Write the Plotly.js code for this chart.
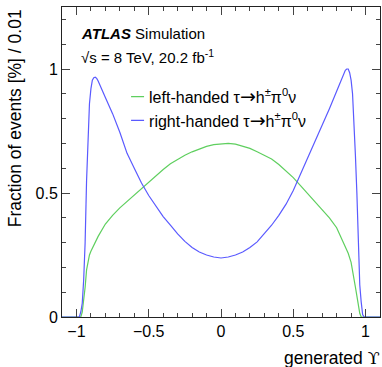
<!DOCTYPE html>
<html><head><meta charset="utf-8">
<script src="https://cdn.plot.ly/plotly-3.0.1.min.js"></script>
<style>html,body{margin:0;padding:0;background:#fff}#chart{width:382px;height:367px}</style>
</head><body><div id="chart"></div>
<script>
// generated Upsilon (bin positions) and fraction of events [%] / 0.01
const leftX = [-1.1, -0.97, -0.96, -0.95, -0.94, -0.93, -0.92, -0.91, -0.90, -0.85, -0.80, -0.75, -0.70, -0.65, -0.60, -0.55, -0.50, -0.45, -0.40, -0.35, -0.30, -0.25, -0.20, -0.15, -0.10, -0.05, 0.00, 0.05, 0.10, 0.15, 0.20, 0.25, 0.30, 0.35, 0.40, 0.45, 0.50, 0.55, 0.60, 0.65, 0.70, 0.75, 0.80, 0.85, 0.88, 0.90, 0.91, 0.92, 0.93, 0.94, 0.95, 0.96, 0.97, 1.1];
const leftY = [0, 0, 0.02, 0.06, 0.12, 0.19, 0.23, 0.25, 0.265, 0.325, 0.375, 0.41, 0.44, 0.466, 0.49, 0.515, 0.545, 0.57, 0.595, 0.618, 0.636, 0.652, 0.666, 0.678, 0.688, 0.695, 0.699, 0.700, 0.697, 0.690, 0.680, 0.666, 0.652, 0.637, 0.615, 0.590, 0.562, 0.530, 0.498, 0.465, 0.435, 0.400, 0.360, 0.300, 0.257, 0.220, 0.190, 0.163, 0.120, 0.085, 0.045, 0.015, 0, 0];

const rightX = [-1.1, -0.98, -0.97, -0.96, -0.95, -0.94, -0.93, -0.92, -0.91, -0.90, -0.89, -0.88, -0.87, -0.86, -0.85, -0.80, -0.75, -0.70, -0.65, -0.60, -0.55, -0.50, -0.45, -0.40, -0.35, -0.30, -0.25, -0.20, -0.15, -0.10, -0.05, 0.00, 0.05, 0.10, 0.15, 0.20, 0.25, 0.30, 0.35, 0.40, 0.45, 0.50, 0.55, 0.60, 0.65, 0.70, 0.75, 0.80, 0.85, 0.86, 0.87, 0.88, 0.89, 0.90, 0.91, 0.92, 0.93, 0.94, 0.95, 0.96, 0.97, 0.98, 0.99, 1.1];
const rightY = [0, 0, 0.02, 0.055, 0.15, 0.30, 0.55, 0.75, 0.86, 0.92, 0.955, 0.965, 0.967, 0.962, 0.952, 0.885, 0.82, 0.745, 0.66, 0.60, 0.54, 0.49, 0.445, 0.405, 0.37, 0.335, 0.305, 0.28, 0.262, 0.25, 0.242, 0.238, 0.242, 0.25, 0.262, 0.28, 0.303, 0.335, 0.37, 0.41, 0.455, 0.51, 0.575, 0.64, 0.705, 0.77, 0.84, 0.91, 0.985, 0.995, 1.0, 1.0, 0.985, 0.955, 0.90, 0.80, 0.65, 0.50, 0.28, 0.13, 0.06, 0.01, 0, 0];

const ARROW = '<span style="font-family:DejaVu Sans;font-size:19px">→</span>';
const seriesNames = ['left-handed τ' + ARROW + 'h<sup>±</sup>π<sup>0</sup>ν', 'right-handed τ' + ARROW + 'h<sup>±</sup>π<sup>0</sup>ν'];
const xTickVals = [-1, -0.5, 0, 0.5, 1];
const xTickText = ['−1', '−0.5', '0', '0.5', '1'];
const yTickVals = [0, 0.5, 1];
const yTickText = ['0', '0.5', '1'];

const FONT = 'Liberation Sans, Arial, Helvetica, sans-serif';

const traces = [
  {x: leftX, y: leftY, name: seriesNames[0], type: 'scatter', mode: 'lines',
   line: {color: '#5fcf5f', width: 1.2}},
  {x: rightX, y: rightY, name: seriesNames[1], type: 'scatter', mode: 'lines',
   line: {color: '#5a5aff', width: 1.2}}
];

const axisCommon = {
  showgrid: false, zeroline: false, showline: true, linecolor: '#222', linewidth: 1,
  mirror: 'ticks', ticks: 'inside', ticklen: 8, tickwidth: 1, tickcolor: '#444',
  tickfont: {family: FONT, size: 16, color: '#000'},
  minor: {dtick: 0.1, ticks: 'inside', ticklen: 4, tickwidth: 1, tickcolor: '#444'}
};

const layout = {
  width: 382, height: 367,
  margin: {l: 62, r: 2, t: 7, b: 50},
  paper_bgcolor: '#fff', plot_bgcolor: '#fff',
  font: {family: FONT, color: '#000'},
  xaxis: Object.assign({}, axisCommon, {range: [-1.1, 1.1], tickvals: xTickVals, ticktext: xTickText}),
  yaxis: Object.assign({}, axisCommon, {range: [0, 1.25], tickvals: yTickVals, ticktext: yTickText}),
  showlegend: true,
  legend: {x: 0.148, y: 0.672, xanchor: 'left', yanchor: 'middle', bgcolor: 'rgba(0,0,0,0)',
           font: {family: FONT, size: 16, color: '#000'}, borderwidth: 0},
  annotations: [
    {xref: 'paper', yref: 'paper', x: 0.053, y: 0.916, xanchor: 'left', yanchor: 'middle', showarrow: false,
     text: '<b><i>ATLAS</i></b> Simulation', font: {family: FONT, size: 15, color: '#000'}},
    {xref: 'paper', yref: 'paper', x: 0.053, y: 0.840, xanchor: 'left', yanchor: 'middle', showarrow: false,
     text: '√s = 8 TeV, 20.2 fb<sup>-1</sup>', font: {family: FONT, size: 15, color: '#000'}},
    {xref: 'paper', yref: 'paper', x: -0.147, y: 1.0, xanchor: 'center', yanchor: 'top', showarrow: false,
     textangle: -90, text: 'Fraction of events [%] / 0.01', font: {family: FONT, size: 17.5, color: '#000'}},
    {xref: 'paper', yref: 'paper', x: 1.006, y: -0.133, xanchor: 'right', yanchor: 'middle', showarrow: false,
     text: 'generated <span style="font-family:DejaVu Serif">ϒ</span>', font: {family: FONT, size: 17.5, color: '#000'}}
  ]
};

Plotly.newPlot('chart', traces, layout, {displayModeBar: false, staticPlot: true}).then(function () {
  document.querySelectorAll('.legendlines path').forEach(function (p) { p.setAttribute('d', 'M22,0h13'); });
});
</script>
</body></html>
